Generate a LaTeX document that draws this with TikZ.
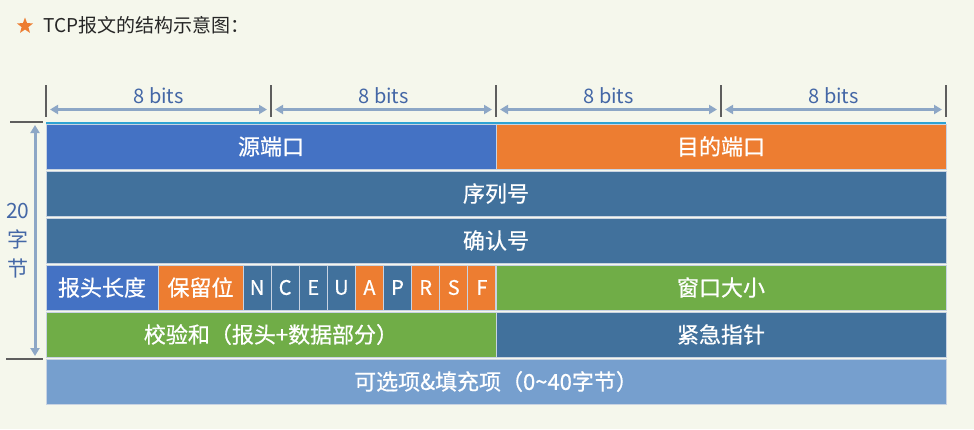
\documentclass[tikz,border=0pt]{standalone}
\usepackage{fontspec}
\setmainfont{Noto Sans CJK SC}
\newfontfamily\cellfont[FakeBold=0.6]{Noto Sans CJK SC}
\usetikzlibrary{arrows.meta,shapes.geometric}
\definecolor{bgpaper}{HTML}{F5F7EC}
\definecolor{cblue}{HTML}{4472C4}
\definecolor{corange}{HTML}{ED7D31}
\definecolor{csteel}{HTML}{41719C}
\definecolor{cgreen}{HTML}{70AD47}
\definecolor{clight}{HTML}{769FCE}
\definecolor{cellline}{HTML}{C8D3E2}
\definecolor{tickgray}{HTML}{5E5E5E}
\definecolor{dimblue}{HTML}{8DA7C6}
\definecolor{lblblue}{HTML}{4467A6}
\definecolor{topcyan}{HTML}{2FA3D3}

\begin{document}
\begin{tikzpicture}[x=1pt, y=-1pt,
  cell/.style={rectangle, draw=cellline, line width=1pt, inner sep=0pt, outer sep=0pt,
    minimum height=45pt, anchor=north west, text=white, font=\cellfont\fontsize{22}{22}\selectfont},
  flag/.style={cell, minimum width=28.1pt, font=\cellfont\fontsize{20}{20}\selectfont},
  tick/.style={draw=tickgray, line width=2.5pt},
  dim/.style={draw=dimblue, line width=3pt, {Triangle[length=8pt,width=9pt]}-{Triangle[length=8pt,width=9pt]}},
  lbl/.style={text=lblblue, font=\fontsize{20}{20}\selectfont}
]
\fill[bgpaper] (0,0) rectangle (974,429);
\useasboundingbox (0,0) rectangle (974,429);

% ---- title ----
\node[star, star points=5, star point ratio=2.4, fill=corange, inner sep=0pt, minimum size=17pt] (mark) at (25,26) {};
\node[anchor=west, text=black!85, font=\fontsize{19}{19}\selectfont] (title) at (40,25) {TCP报文的结构示意图：};

% ---- bit scale ----
\foreach \i/\x in {0/46, 1/271, 2/496, 3/721, 4/946} {
  \coordinate (tu\i) at (\x,85);
  \coordinate (td\i) at (\x,117);
  \coordinate (ta\i) at (\x,109.5);
  \draw[tick] (tu\i) -- (td\i);
}
\foreach \i/\j in {0/1, 1/2, 2/3, 3/4}
  \draw[dim, shorten <=4pt, shorten >=4pt] (ta\i) -- (ta\j)
    node[lbl, midway, yshift=14pt] (bits\i) {8 bits};

% ---- rows ----
\node[cell, fill=cblue, minimum width=450pt]   (srcport) at (46,124)  {源端口};
\node[cell, fill=corange, minimum width=450pt] (dstport) at (496,124) {目的端口};
\node[cell, fill=csteel, minimum width=900pt]  (seq)     at (46,171)  {序列号};
\node[cell, fill=csteel, minimum width=900pt]  (ack)     at (46,218)  {确认号};
\node[cell, fill=cblue, minimum width=112pt]   (hlen)    at (46,265)  {报头长度};
\node[cell, fill=corange, minimum width=85pt]  (rsv)     at (158,265) {保留位};
\foreach \f/\c [count=\i from 0] in {N/csteel, C/csteel, E/csteel, U/csteel, A/corange,
                                    P/csteel, R/corange, S/corange, F/corange}
  \node[flag, fill=\c] (flag\f) at (243+28.1*\i,265) {\f};
\node[cell, fill=cgreen, minimum width=450pt]  (win)     at (496,265) {窗口大小};
\node[cell, fill=cgreen, minimum width=450pt]  (chk)     at (46,312)  {校验和（报头+数据部分）};
\node[cell, fill=csteel, minimum width=450pt]  (urg)     at (496,312) {紧急指针};
\node[cell, fill=clight, minimum width=900pt]  (opt)     at (46,359)  {可选项\&填充项（0\textasciitilde40字节）};

\draw[topcyan, line width=2pt] ([yshift=1.5pt]srcport.north west) -- ([yshift=1.5pt]dstport.north east);

% ---- header length ----
\coordinate (lt0) at (10,122);
\coordinate (lt1) at (43,122);
\coordinate (lb0) at (6,359);
\coordinate (lb1) at (43,359);
\coordinate (la0) at (35,122);
\coordinate (la1) at (35,359);
\draw[tick] (lt0) -- (lt1);
\draw[tick] (lb0) -- (lb1);
\draw[dim, shorten <=3pt, shorten >=3pt] (la0) -- (la1);
\node[lbl, align=center, font=\fontsize{21}{29}\selectfont] (hdrsize) at (18,241) {20\\字\\节};
\end{tikzpicture}
\end{document}
